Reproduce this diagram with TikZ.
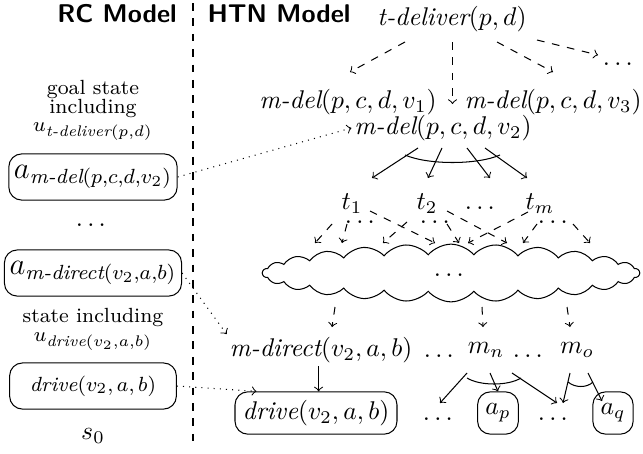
\documentclass[tikz,border=0pt]{standalone}
\usepackage{amsmath}
\usetikzlibrary{shapes.symbols}
\begin{document}
\begin{tikzpicture}[x=0.39pt,y=-0.39pt,>=to,
  head/.style={font=\sffamily\bfseries, inner sep=0pt},
  plain/.style={inner sep=1pt},
  lbox/.style={draw, rounded corners=5pt, minimum width=65pt, minimum height=18pt, inner sep=2pt},
  hbox/.style={draw, rounded corners=5pt, minimum height=16.5pt, inner sep=3pt},
  fan/.style={->, dashed},
  link/.style={->, dotted},
  sepline/.style={thick, dashed},
]
\useasboundingbox (0,0) rectangle (643,453);

% headings and separator
\node[head] (rc) at (117,14) {RC Model};
\node[head] (htn) at (279,14) {HTN Model};
\coordinate (septop) at (193,3);
\coordinate (sepbot) at (193,447);
\draw[sepline] (septop) -- (sepbot);

% ---------------- HTN side ----------------
\node[plain] (tdel) at (452,19) {$\textit{t-deliver}(p,d)$};
\node[plain] (m1) at (348,102) {$\textit{m-del}(p,c,d,v_1)$};
\node[plain] (m3) at (553,102) {$\textit{m-del}(p,c,d,v_3)$};
\node[plain] (m2) at (443,128) {$\textit{m-del}(p,c,d,v_2)$};
\node[plain] (tdots) at (620,64) {$\dots$};

\coordinate (f1s) at (405,42);  \coordinate (f1e) at (350,72);
\coordinate (f2s) at (452.5,42);  \coordinate (f2e) at (452.5,104);
\coordinate (f3s) at (497,42);  \coordinate (f3e) at (553,72);
\coordinate (f4s) at (537,40);  \coordinate (f4e) at (598,55);
\draw[fan] (f1s) -- (f1e);
\draw[fan] (f2s) -- (f2e);
\draw[fan] (f3s) -- (f3e);
\draw[fan] (f4s) -- (f4e);

% tasks t_i
\node[plain] (t1) at (352,204) {$t_1$};
\node[plain] (t2) at (427,204) {$t_2$};
\node[plain] (tdd) at (482,208) {$\dots$};
\node[plain] (tm) at (540,204) {$t_m$};

% AND decomposition of m-del v2
\coordinate (a1s) at (418,148); \coordinate (a1e) at (372,178);
\coordinate (a2s) at (442,148); \coordinate (a2e) at (428,178);
\coordinate (a3s) at (467,148); \coordinate (a3e) at (490,178);
\coordinate (a4s) at (485,148); \coordinate (a4e) at (527,178);
\draw[->] (a1s) -- (a1e);
\draw[->] (a2s) -- (a2e);
\draw[->] (a3s) -- (a3e);
\draw[->] (a4s) -- (a4e);
\coordinate (arcl) at (405,155); \coordinate (arcr) at (500,155);
\draw (arcl) .. controls (428,165) and (477,165) .. (arcr);

% cloud
\node[cloud, draw, cloud puffs=26, cloud puff arc=100, cloud ignores aspect,
      minimum width=147pt, minimum height=22.5pt, inner sep=0pt] (cl) at (451,273) {};
\node[plain] (cldots) at (451,275) {$\dots$};

% dots under t_i
\node[plain] (s1) at (362,222) {$\dots$};
\node[plain] (s2) at (437,222) {$\dots$};
\node[plain] (s3) at (555,222) {$\dots$};

\coordinate (b1s) at (332,224); \coordinate (b1e) at (315,243);
\coordinate (b2s) at (347,224); \coordinate (b2e) at (342,243);
\coordinate (b3s) at (370,211); \coordinate (b3e) at (435,243);
\coordinate (b4s) at (407,222); \coordinate (b4e) at (383,243);
\coordinate (b5s) at (447,224); \coordinate (b5e) at (459,243);
\coordinate (b6s) at (447,211); \coordinate (b6e) at (507,243);
\coordinate (b7s) at (528,212); \coordinate (b7e) at (468,243);
\coordinate (b8s) at (537,224); \coordinate (b8e) at (523,243);
\coordinate (b9s) at (573,224); \coordinate (b9e) at (590,243);
\foreach \i in {1,...,9} {\draw[fan] (b\i s) -- (b\i e);}

% methods row
\node[plain] (mdir) at (321,350) {$\textit{m-direct}(v_2,a,b)$};
\node[plain] (md1) at (441,356) {$\dots$};
\node[plain] (mn) at (486,350) {$m_n$};
\node[plain] (md2) at (530,356) {$\dots$};
\node[plain] (mo) at (577,350) {$m_o$};

\coordinate (c1s) at (335,307); \coordinate (c1e) at (332,327);
\coordinate (c2s) at (482,307); \coordinate (c2e) at (483,327);
\coordinate (c3s) at (567,307); \coordinate (c3e) at (570,327);
\draw[fan] (c1s) -- (c1e);
\draw[fan] (c2s) -- (c2e);
\draw[fan] (c3s) -- (c3e);

% actions row
\node[hbox] (drv) at (316,413) {$\textit{drive}(v_2,a,b)$};
\node[plain] (bd1) at (440,419) {$\dots$};
\node[hbox] (ap) at (498,413) {$a_p$};
\node[plain] (bd2) at (555,419) {$\dots$};
\node[hbox] (aq) at (613,413) {$a_q$};

\coordinate (dds) at (318.6,366);
\draw[->] (dds) -- (drv.north -| dds);

\coordinate (n1s) at (467,373); \coordinate (n1e) at (440,403);
\coordinate (n3s) at (512,373); \coordinate (n3e) at (557,403);
\coordinate (n2s) at (490,373);
\coordinate (o1s) at (570,373); \coordinate (o1e) at (563,403);
\coordinate (o2s) at (588,373); \coordinate (o2e) at (602,401);
\draw[->] (n1s) -- (n1e);
\draw[->] (n2s) -- (ap.north);
\draw[->] (n3s) -- (n3e);
\draw (467,378) .. controls (480,386) and (508,386) .. (521,378);
\draw[->] (o1s) -- (o1e);
\draw[->] (o2s) -- (o2e);
\draw (568,382) .. controls (575,388) and (587,388) .. (593,382);

% ---------------- RC side ----------------
\node[plain, font=\footnotesize, align=center] (goal) at (93,110)
  {goal state\\[-2pt]including\\[-2.5pt]$u_{\textit{t-deliver}(p,d)}$};
\node[lbox] (lb1) at (93,177) {\large $a_{\textit{m-del}(p,c,d,v_2)}$};
\node[plain] (ldots) at (93,225) {$\dots$};
\node[lbox] (lb2) at (93,273) {\large $a_{\textit{m-direct}(v_2,a,b)}$};
\node[plain, font=\footnotesize, align=center] (stinc) at (93,329)
  {state including\\[-2pt]$u_{\textit{drive}(v_2,a,b)}$};
\node[lbox] (lb3) at (93,386) {\footnotesize $\textit{drive}(v_2,a,b)$};
\node[plain] (s0) at (93,436) {$s_0$};

\draw[link] (lb1.east) -- (m2.west);
\draw[link] (lb2.east) -- (mdir.north west);
\draw[link] (lb3.east) -- (drv.160);
\end{tikzpicture}
\end{document}
